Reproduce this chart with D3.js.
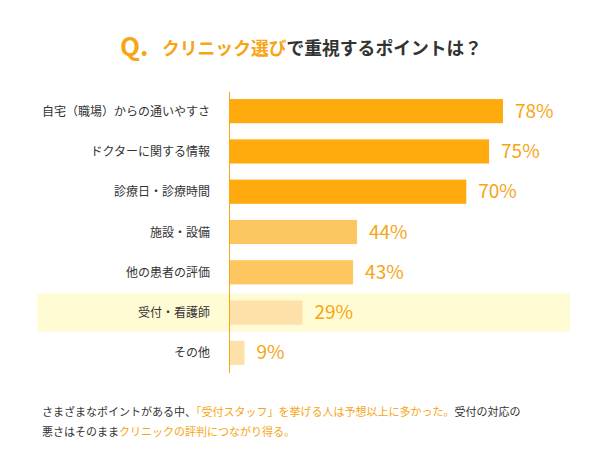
<!DOCTYPE html>
<html>
<head>
<meta charset="utf-8">
<script src="https://cdn.jsdelivr.net/npm/d3@7/dist/d3.min.js"></script>
<style>
html,body{margin:0;padding:0;background:#fff;}
svg{display:block;}
text{font-family:"Noto Sans CJK JP","Noto Sans",sans-serif;}
</style>
</head>
<body>
<svg id="chart" width="610" height="470"></svg>
<script>
const categories = ["自宅（職場）からの通いやすさ","ドクターに関する情報","診療日・診療時間","施設・設備","他の患者の評価","受付・看護師","その他"];
const values = [78, 75, 70, 44, 43, 29, 9];
const tiers = [0, 0, 0, 1, 1, 2, 2];
const highlighted = ["受付・看護師"];
const titleQ = "Q.";
const titleOrange = "クリニック選び";
const titleDark = "で重視するポイントは？";
const note1 = [["さまざまなポイントがある中、", false], ["「受付スタッフ」を挙げる人は予想以上に多かった。", true], ["受付の対応の", false]];
const note2 = [["悪さはそのまま", false], ["クリニックの評判につながり得る。", true]];

const tierColors = ["#FFAA0D", "#FDC75F", "#FEE1A9"];
const orange = "#F6A514";
const dark = "#333333";

const svg = d3.select("#chart");

// Title
svg.append("text").attr("x", 120).attr("y", 56)
  .attr("font-size", 26).attr("font-weight", 700)
  .attr("fill", orange).attr("font-family", "Roboto, sans-serif").text(titleQ);
const title = svg.append("text").attr("x", 162).attr("y", 55);
title.append("tspan").attr("font-size", 17.8).attr("font-weight", 700)
  .attr("fill", orange).text(titleOrange);
title.append("tspan").attr("font-size", 17.8).attr("font-weight", 700)
  .attr("fill", dark).text(titleDark);

const axisX = 229;
const y = d3.scaleBand().domain(categories).range([91, 373]).paddingInner(0.4).paddingOuter(0.2);
const x = d3.scalePow().exponent(1.33).domain([0, 78]).range([0, 274]);

// highlight band
svg.selectAll("rect.hl").data(highlighted).enter().append("rect")
  .attr("class", "hl")
  .attr("x", 37).attr("width", 533)
  .attr("y", d => y(d) + y.bandwidth() / 2 - 19)
  .attr("height", 38)
  .attr("fill", "#FFFCD5");

// bars
svg.selectAll("rect.bar").data(categories).enter().append("rect")
  .attr("class", "bar")
  .attr("x", axisX)
  .attr("y", d => y(d))
  .attr("height", y.bandwidth())
  .attr("width", (d, i) => x(values[i]))
  .attr("fill", (d, i) => tierColors[tiers[i]]);

// axis line
svg.append("line").attr("x1", axisX + 0.5).attr("x2", axisX + 0.5)
  .attr("y1", 92).attr("y2", 373).attr("stroke", orange).attr("stroke-width", 1);

// category labels
svg.selectAll("text.cat").data(categories).enter().append("text")
  .attr("class", "cat")
  .attr("x", 210)
  .attr("y", d => y(d) + y.bandwidth() / 2 + 4.5)
  .attr("text-anchor", "end")
  .attr("font-size", 12)
  .attr("fill", dark)
  .text(d => d);

// value labels
svg.selectAll("text.val").data(categories).enter().append("text")
  .attr("class", "val")
  .attr("x", (d, i) => axisX + x(values[i]) + 12)
  .attr("y", d => y(d) + y.bandwidth() / 2 + 6.5)
  .attr("font-size", 19)
  .attr("font-family", "Roboto, sans-serif")
  .attr("fill", orange)
  .text((d, i) => values[i] + "%");

// notes
function note(parts, yy) {
  const t = svg.append("text").attr("x", 42).attr("y", yy).attr("font-size", 11);
  parts.forEach(p => t.append("tspan").attr("fill", p[1] ? orange : dark).text(p[0]));
}
note(note1, 416);
note(note2, 436);
</script>
</body>
</html>
